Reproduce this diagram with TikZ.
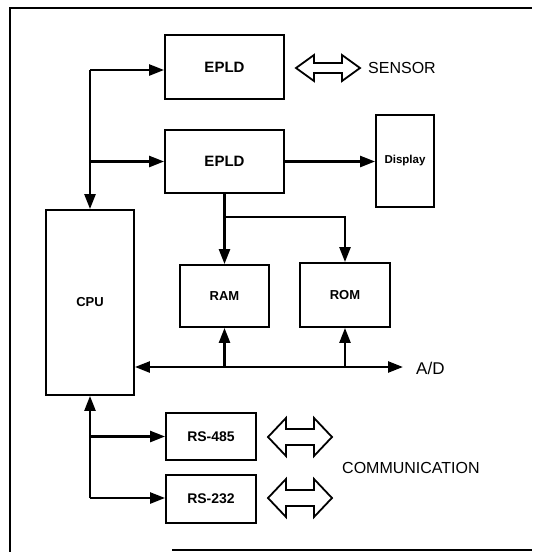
\documentclass[tikz,border=0pt]{standalone}
\usepackage{fontspec}
\setmainfont{Liberation Sans}
\usetikzlibrary{arrows.meta}
\newcommand\hollowarrow[4]{% cx, cy, half height, shaft half height
  \draw[hollow] (#1-32,#2) -- (#1-14,#2-#3) -- (#1-14,#2-#4) -- (#1+14,#2-#4) -- (#1+14,#2-#3)
    -- (#1+32,#2) -- (#1+14,#2+#3) -- (#1+14,#2+#4) -- (#1-14,#2+#4) -- (#1-14,#2+#3) -- cycle;}
\tikzset{
  blk/.style={draw, line width=1.9pt, rectangle, inner sep=0pt, font=\bfseries\fontsize{13}{15}\selectfont},
  conn/.style={line width=2.5pt, -{Triangle[length=15pt,width=11pt]}},
  bothconn/.style={line width=2.5pt, {Triangle[length=15pt,width=11pt]}-{Triangle[length=15pt,width=11pt]}},
  plain/.style={line width=2.5pt},
  hollow/.style={line width=1.8pt, line join=miter},
  frame/.style={line width=1.6pt},
  lbl/.style={anchor=west, inner sep=0pt, font=\fontsize{16}{18}\selectfont}
}
\begin{document}
\begin{tikzpicture}[x=1pt,y=-1pt]
\useasboundingbox (0,0) rectangle (538,552);
% frame
\coordinate (f1) at (10,552);
\coordinate (f2) at (10,8);
\coordinate (f3) at (532,8);
\coordinate (f4) at (172,550);
\coordinate (f5) at (532,550);
\draw[frame] (f1) -- (f2) -- (f3);
\draw[frame] (f4) -- (f5);
% blocks
\node[blk, minimum width=119pt, minimum height=64pt, font=\bfseries\fontsize{15}{17}\selectfont] (epld1) at (224.5,67) {EPLD};
\node[blk, minimum width=119pt, minimum height=63pt, font=\bfseries\fontsize{15}{17}\selectfont] (epld2) at (224.5,161.5) {EPLD};
\node[blk, minimum width=58pt, minimum height=92pt, font=\bfseries\fontsize{11.5}{13}\selectfont] (disp) at (405,161) {Display};
\node[blk, minimum width=88pt, minimum height=185pt] (cpu) at (90,302.5) {CPU};
\node[blk, minimum width=89pt, minimum height=62pt] (ram) at (224.5,296) {RAM};
\node[blk, minimum width=90pt, minimum height=64pt] (rom) at (345,295) {ROM};
\node[blk, minimum width=90pt, minimum height=47pt, font=\bfseries\fontsize{14}{16}\selectfont] (rs485) at (211,436.5) {RS-485};
\node[blk, minimum width=90pt, minimum height=48pt, font=\bfseries\fontsize{14}{16}\selectfont] (rs232) at (211,499) {RS-232};
% labels
\node[lbl] (sensor) at (368,68) {SENSOR};
\node[lbl, font=\fontsize{17}{19}\selectfont] (ad) at (416,368) {A/D};
\node[lbl] (comm) at (342,468) {COMMUNICATION};
% top bus
\coordinate (bt) at (90,70);
\draw[conn] (bt) -- (cpu.north);
\draw[conn] (bt) -- (bt -| epld1.west);
\draw[conn] (bt |- epld2.west) -- (epld2.west);
\draw[conn] (epld2.east) -- (epld2.east -| disp.west);
% memory
\coordinate (mj) at (224.5,217);
\draw[plain] (epld2.south) -- (mj);
\draw[conn] (mj) -- (ram.north);
\draw[conn] (mj) -| (rom.north);
% main bus
\coordinate (by) at (0,367);
\coordinate (adend) at (403,367);
\draw[bothconn] (cpu.east |- by) -- (adend);
\draw[conn] (ram.south |- by) -- (ram.south);
\draw[conn] (rom.south |- by) -- (rom.south);
% lower bus
\coordinate (bb) at (90,498);
\draw[conn] (bb) -- (cpu.south);
\draw[conn] (bb |- rs485.west) -- (rs485.west);
\draw[conn] (bb) -- (bb -| rs232.west);
% hollow arrows
\hollowarrow{328}{68}{13}{5}
\hollowarrow{300}{437}{19}{8}
\hollowarrow{300}{498}{19}{8}
\end{tikzpicture}
\end{document}
